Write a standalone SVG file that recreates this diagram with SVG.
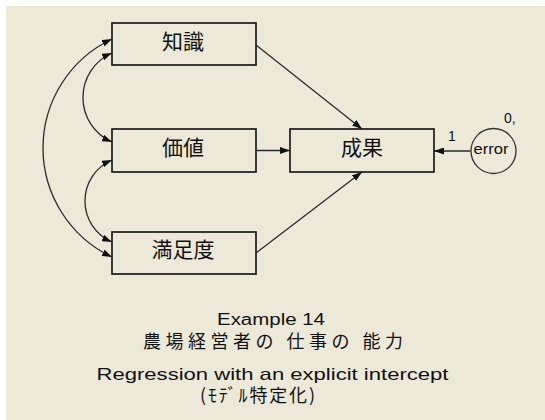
<svg xmlns="http://www.w3.org/2000/svg" width="545" height="420" viewBox="0 0 545 420">
<defs>
<style>
.box{fill:none;stroke:#1a1a1a;stroke-width:1.7}
.con{fill:none;stroke:#2a2a2a;stroke-width:1.3}
.jp{font-family:"Noto Sans CJK JP","Noto Sans CJK SC",sans-serif;fill:#111}
.lat{font-family:"Liberation Sans",Arial,sans-serif;fill:#111}
</style>
<marker id="ah" viewBox="0 0 10 7" refX="10" refY="3.5" markerWidth="10" markerHeight="7" markerUnits="userSpaceOnUse" orient="auto-start-reverse">
<path d="M0,0 L10,3.5 L0,7 z" fill="#111"/>
</marker>
</defs>
<rect x="0" y="0" width="545" height="420" fill="#ffffff"/>
<rect x="6" y="6" width="539" height="414" fill="#ECE9D8"/>

<g id="connectors">
<path class="con" d="M112,39 A120.6,120.6 0 0,0 112,257" marker-start="url(#ah)" marker-end="url(#ah)"/>
<path class="con" d="M112,53 A48.6,48.6 0 0,0 112,142" marker-start="url(#ah)" marker-end="url(#ah)"/>
<path class="con" d="M112,160 A44.6,44.6 0 0,0 112,242" marker-start="url(#ah)" marker-end="url(#ah)"/>
<line class="con" x1="256" y1="45" x2="362" y2="129" marker-end="url(#ah)"/>
<line class="con" x1="256" y1="150.5" x2="290" y2="150.5" marker-end="url(#ah)"/>
<line class="con" x1="256" y1="253" x2="362" y2="172" marker-end="url(#ah)"/>
<line class="con" x1="470.5" y1="151" x2="434" y2="151" marker-end="url(#ah)"/>
<text class="lat" x="452" y="140.5" font-size="14" text-anchor="middle">1</text>
</g>

<g id="node-chishiki">
<rect class="box" x="112" y="23" width="144" height="42"/>
<text class="jp" x="183" y="49" font-size="21" text-anchor="middle">知識</text>
</g>
<g id="node-kachi">
<rect class="box" x="112" y="129" width="144" height="43"/>
<text class="jp" x="183" y="155" font-size="21" text-anchor="middle">価値</text>
</g>
<g id="node-manzokudo">
<rect class="box" x="112" y="232" width="144" height="42"/>
<text class="jp" x="183" y="257" font-size="21" text-anchor="middle">満足度</text>
</g>
<g id="node-seika">
<rect class="box" x="290" y="129" width="144" height="43"/>
<text class="jp" x="362" y="155" font-size="21" text-anchor="middle">成果</text>
</g>
<g id="node-error">
<circle cx="493.5" cy="151" r="22.5" fill="none" stroke="#333" stroke-width="1.3"/>
<text class="lat" x="491" y="154" font-size="15" text-anchor="middle" textLength="35" lengthAdjust="spacingAndGlyphs">error</text>
<text class="lat" x="504" y="122.5" font-size="14">0,</text>
</g>

<g id="title">
<text class="lat" x="271" y="325" font-size="16" text-anchor="middle" textLength="108" lengthAdjust="spacingAndGlyphs">Example 14</text>
<text class="jp" x="273" y="348" font-size="18" text-anchor="middle" textLength="260" lengthAdjust="spacing">農場経営者の 仕事の 能力</text>
<text class="lat" x="272.5" y="380" font-size="16.5" text-anchor="middle" textLength="352" lengthAdjust="spacingAndGlyphs">Regression with an explicit intercept</text>
<text class="jp" x="257.5" y="402" font-size="18" text-anchor="middle" textLength="115" lengthAdjust="spacing">(ﾓﾃﾞﾙ特定化)</text>
</g>
</svg>
